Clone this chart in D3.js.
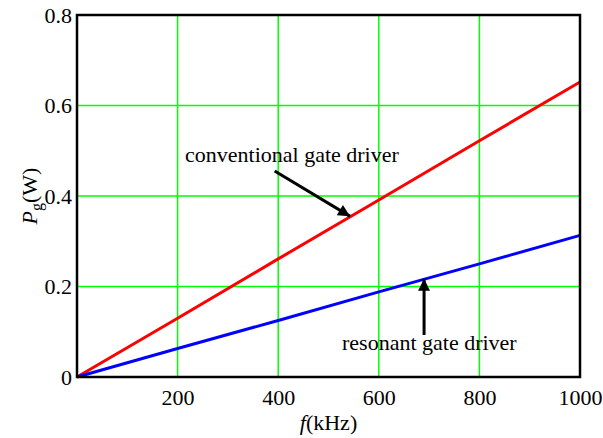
<!DOCTYPE html>
<html><head><meta charset="utf-8">
<script src="https://cdn.jsdelivr.net/npm/d3@7"></script>
<style>body{margin:0;background:#fff}svg{display:block}svg text{font-family:"Liberation Serif","Times New Roman",serif !important;fill:#000}</style>
</head><body>
<script>
const freq = [0, 200, 400, 600, 800, 1000];
const conventional = [0, 0.130, 0.261, 0.391, 0.522, 0.652];
const resonant = [0, 0.063, 0.125, 0.188, 0.250, 0.313];
const xTicks = [200, 400, 600, 800, 1000];
const xTickLabels = ["200", "400", "600", "800", "1000"];
const yTicks = [0, 0.2, 0.4, 0.6, 0.8];
const yTickLabels = ["0", "0.2", "0.4", "0.6", "0.8"];

const W = 603, H = 438;
const FS = "22px";
const m = {left: 77, right: 23, top: 15, bottom: 61};
const svg = d3.select("body").append("svg").attr("width", W).attr("height", H);
const x = d3.scaleLinear().domain([0, 1000]).range([m.left, W - m.right]);
const y = d3.scaleLinear().domain([0, 0.8]).range([H - m.bottom, m.top]);

// grid
svg.append("g").selectAll("line").data(xTicks.slice(0, -1)).join("line")
  .attr("x1", d => x(d)).attr("x2", d => x(d)).attr("y1", y(0)).attr("y2", y(0.8))
  .attr("stroke", "#00ff00").attr("stroke-width", 1.5);
svg.append("g").selectAll("line").data(yTicks.slice(1, -1)).join("line")
  .attr("y1", d => y(d)).attr("y2", d => y(d)).attr("x1", x(0)).attr("x2", x(1000))
  .attr("stroke", "#00ff00").attr("stroke-width", 1.5);

// axes via d3 axis (labels only)
const xAxis = svg.append("g").attr("transform", `translate(0,${y(0)})`)
  .call(d3.axisBottom(x).tickValues(xTicks).tickFormat((d, i) => xTickLabels[i]).tickSize(0).tickPadding(12))
  .attr("font-family", null).attr("font-size", null);
xAxis.select(".domain").remove();
xAxis.selectAll("text").style("font-size", FS);
const yAxis = svg.append("g").attr("transform", `translate(${x(0)},0)`)
  .call(d3.axisLeft(y).tickValues(yTicks).tickFormat((d, i) => yTickLabels[i]).tickSize(0).tickPadding(5))
  .attr("font-family", null).attr("font-size", null);
yAxis.select(".domain").remove();
yAxis.selectAll("text").style("font-size", FS);

// lines
const line = d3.line().x((d, i) => x(freq[i])).y(d => y(d));
svg.append("path").datum(conventional).attr("d", line).attr("fill", "none").attr("stroke", "#ff0000").attr("stroke-width", 3);
svg.append("path").datum(resonant).attr("d", line).attr("fill", "none").attr("stroke", "#0000ff").attr("stroke-width", 3);

// frame
svg.append("rect").attr("x", x(0)).attr("y", y(0.8)).attr("width", x(1000) - x(0)).attr("height", y(0) - y(0.8))
  .attr("fill", "none").attr("stroke", "#000").attr("stroke-width", 2.5);

// arrows
const defs = svg.append("defs");
defs.append("marker").attr("id", "ah").attr("viewBox", "0 0 10 10").attr("refX", 10).attr("refY", 5)
  .attr("markerWidth", 5).attr("markerHeight", 4).attr("markerUnits", "strokeWidth").attr("orient", "auto")
  .append("path").attr("d", "M0,0L10,5L0,10Z").attr("fill", "#000");
function arrow(x1, y1, x2, y2) {
  svg.append("line").attr("x1", x1).attr("y1", y1).attr("x2", x2).attr("y2", y2)
    .attr("stroke", "#000").attr("stroke-width", 3).attr("marker-end", "url(#ah)");
}
arrow(x(393), 171, x(543), y(0.355));
arrow(x(690), 335, x(690), y(0.217));

svg.append("text").attr("x", 185).attr("y", 162).style("font-size", FS).text("conventional gate driver");
svg.append("text").attr("x", 342).attr("y", 350).style("font-size", FS).text("resonant gate driver");

// axis titles
const xt = svg.append("text").attr("x", (x(0) + x(1000)) / 2).attr("y", 430).attr("text-anchor", "middle").style("font-size", FS);
xt.append("tspan").attr("font-style", "italic").text("f");
xt.append("tspan").text("(kHz)");
const yt = svg.append("text").attr("transform", `translate(37,${(y(0) + y(0.8)) / 2}) rotate(-90)`).attr("text-anchor", "middle").style("font-size", FS);
yt.append("tspan").attr("font-style", "italic").text("P");
yt.append("tspan").attr("dy", 5).style("font-size", "16px").text("g");
yt.append("tspan").attr("dy", -5).text("(W)");
</script>
</body></html>
